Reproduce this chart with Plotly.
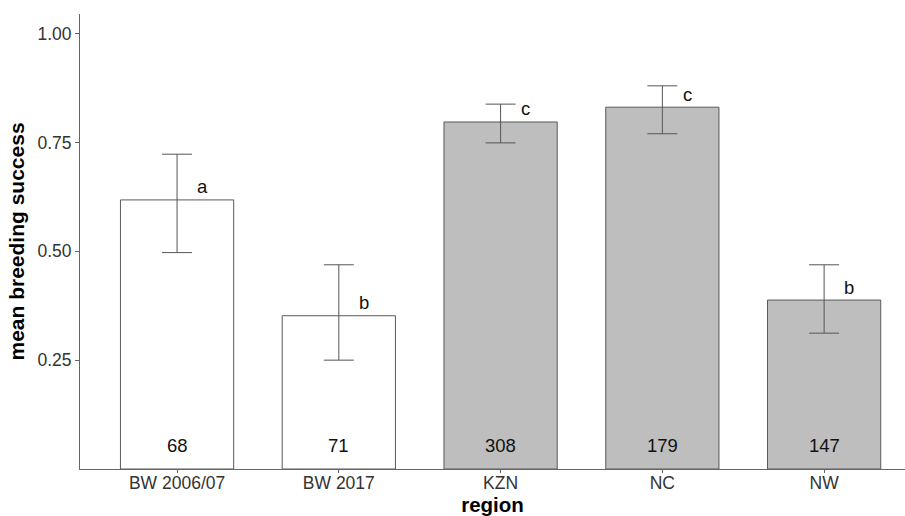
import plotly.graph_objects as go

regions = ["BW 2006/07", "BW 2017", "KZN", "NC", "NW"]
means = [0.618, 0.352, 0.797, 0.831, 0.388]
err_upper = [0.723, 0.469, 0.838, 0.880, 0.469]
err_lower = [0.497, 0.250, 0.749, 0.770, 0.312]
sample_n = ["68", "71", "308", "179", "147"]
letters = ["a", "b", "c", "c", "b"]
fills = ["#ffffff", "#ffffff", "#bebebe", "#bebebe", "#bebebe"]
y_ticks = [0.25, 0.50, 0.75, 1.00]
y_tick_labels = ["0.25", "0.50", "0.75", "1.00"]

xs = list(range(len(regions)))
plus = [u - m for u, m in zip(err_upper, means)]
minus = [m - l for m, l in zip(means, err_lower)]

fig = go.Figure()
fig.add_trace(go.Bar(
    x=xs, y=means, width=0.7,
    marker=dict(color=fills, line=dict(color="#5a5a5a", width=1)),
    error_y=dict(type="data", symmetric=False, array=plus, arrayminus=minus,
                 color="#555555", thickness=1, width=15),
    showlegend=False, hoverinfo="skip",
))

font_family = "Liberation Sans, Arial, sans-serif"
for x, n in zip(xs, sample_n):
    fig.add_annotation(x=x, y=0.055, text=n, showarrow=False,
                       font=dict(family=font_family, size=18.5, color="#111111"))
for x, m, l in zip(xs, means, letters):
    fig.add_annotation(x=x + 0.155, y=m + 0.03, text=l, showarrow=False,
                       font=dict(family=font_family, size=18.5, color="#111111"))

fig.update_layout(
    width=905, height=516,
    margin=dict(l=80, r=0, t=14, b=46.5),
    plot_bgcolor="white", paper_bgcolor="white",
    font=dict(family=font_family, color="#333333", size=17.5),
    bargap=0.3,
    xaxis=dict(
        range=[-0.6, 4.5], tickmode="array", tickvals=xs, ticktext=regions,
        showline=True, linecolor="#666666", linewidth=1,
        ticks="outside", ticklen=3, tickcolor="#666666",
        ticklabelstandoff=-5,
        showgrid=False, zeroline=False,
        tickfont=dict(size=17.5, color="#333333"),
        title=dict(text="<b>region</b>", font=dict(size=20.5, color="#000000"), standoff=2),
    ),
    yaxis=dict(
        range=[0, 1.045], tickmode="array", tickvals=y_ticks, ticktext=y_tick_labels,
        showline=True, linecolor="#666666", linewidth=1,
        ticks="outside", ticklen=4, tickcolor="#666666",
        showgrid=False, zeroline=False,
        tickfont=dict(size=17.5, color="#333333"),
        title=dict(text="<b>mean breeding success</b>", font=dict(size=21, color="#000000"), standoff=7),
    ),
)

fig.write_html("out.html", config={"displayModeBar": False},
               post_script="document.body.style.margin='0';")
